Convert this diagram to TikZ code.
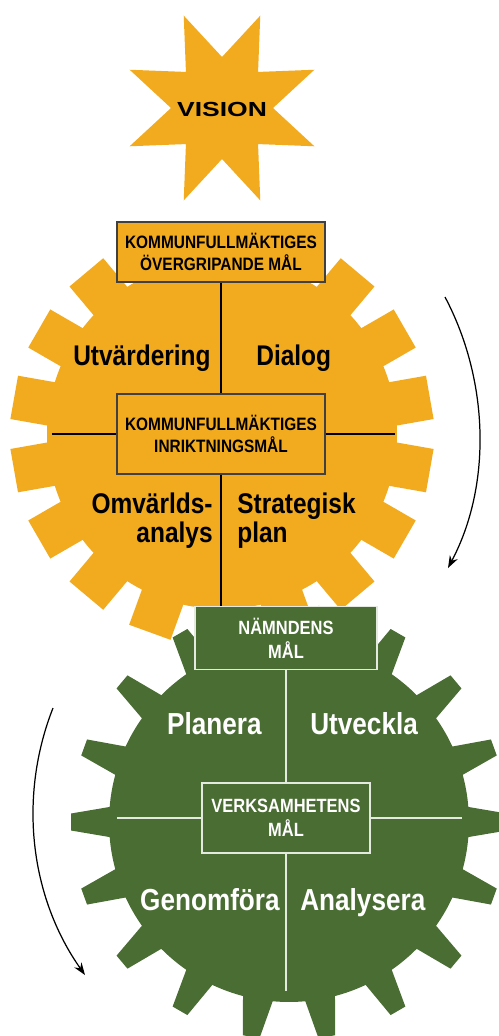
\documentclass[tikz,border=0pt]{standalone}
\usepackage{fontspec}
\setmainfont{Liberation Sans}
\newfontfamily\condfont[FakeStretch=0.86]{Liberation Sans}
\newfontfamily\widefont[FakeStretch=1.3]{Liberation Sans}
\usetikzlibrary{arrows.meta}
\definecolor{gearorange}{HTML}{F2AA1F}
\definecolor{geargreen}{HTML}{4A6D33}
\definecolor{paleline}{HTML}{E4EADF}

\begin{document}
\begin{tikzpicture}[x=0.02cm, y=-0.02cm, >={Stealth[length=7pt,width=5pt]},
    obox/.style={draw=black!75, line width=0.7pt, fill=gearorange, minimum width=4.16cm,
      align=center, inner sep=0pt, font=\condfont\bfseries\fontsize{10.2}{13}\selectfont},
    gbox/.style={draw=paleline, line width=0.7pt, fill=geargreen, text=white,
      align=center, inner sep=0pt, font=\condfont\bfseries\fontsize{10.9}{13.6}\selectfont},
    olabel/.style={inner sep=0pt, font=\condfont\bfseries\fontsize{16.2}{16.4}\selectfont},
    glabel/.style={inner sep=0pt, text=white, font=\condfont\bfseries\fontsize{17.3}{17}\selectfont}]
  \clip (0,0) rectangle (499,1036);

  % vision star
  \fill[gearorange, shift={(222,108)}] (0:51)
    \foreach \k in {0,...,7} { -- ({22.5+45*\k}:100) -- ({45+45*\k}:51) } -- cycle;
  \node[inner sep=0pt, font=\widefont\bfseries\fontsize{11.6}{14}\selectfont] (vision) at (222,109) {VISION};

  % orange gear
  \fill[gearorange] (222,434) circle[radius=3.5cm];
  \foreach \a in {10,30,...,350}
    \fill[gearorange, shift={(222,434)}, rotate=\a] (150,-22) -- (211,-22) -- (211,22) -- (150,22) -- cycle;

  \node[obox, minimum height=1.2cm] (overgrip) at (221,252) {KOMMUNFULLMÄKTIGES\\ÖVERGRIPANDE MÅL};
  \node[obox, minimum height=1.6cm] (inrikt) at (221,434) {KOMMUNFULLMÄKTIGES\\INRIKTNINGSMÅL};
  \coordinate (oleft) at (52,434);
  \coordinate (oright) at (395,434);
  \coordinate (odown) at (221,615);
  \draw[line width=1.1pt] (overgrip) -- (inrikt);
  \draw[line width=1.1pt] (inrikt) -- (odown);
  \draw[line width=1.1pt] (oleft) -- (inrikt);
  \draw[line width=1.1pt] (inrikt) -- (oright);

  \node[olabel, anchor=base east] (utv) at (211,365) {Utvärdering};
  \node[olabel, anchor=base west] (dialog) at (256,365) {Dialog};
  \node[olabel, anchor=base east, align=right] (omv) at (213,542) {Omvärlds-\\analys};
  \node[olabel, anchor=base west, align=left] (strat) at (237,542) {Strategisk\\plan};

  % green gear
  \fill[geargreen] (289,822) circle[radius=3.6cm];
  \foreach \a in {0,20,...,340}
    \fill[geargreen, shift={(289,822)}, rotate=\a] (165,-17.5) -- (218,-8.5) -- (218,8.5) -- (165,17.5) -- cycle;

  \node[gbox, minimum width=3.64cm, minimum height=1.26cm] (namnd) at (286,638) {NÄMNDENS\\MÅL};
  \node[gbox, minimum width=3.36cm, minimum height=1.4cm] (verks) at (286,818) {VERKSAMHETENS\\MÅL};
  \coordinate (gleft) at (117,818);
  \coordinate (gright) at (462,818);
  \coordinate (gdown) at (286,991);
  \draw[paleline, line width=1pt] (namnd) -- (verks);
  \draw[paleline, line width=1pt] (verks) -- (gdown);
  \draw[paleline, line width=1pt] (gleft) -- (verks);
  \draw[paleline, line width=1pt] (verks) -- (gright);

  \node[glabel, anchor=base east] (planera) at (262,734) {Planera};
  \node[glabel, anchor=base west] (utveckla) at (310,734) {Utveckla};
  \node[glabel, anchor=base east] (genomf) at (280,910) {Genomföra};
  \node[glabel, anchor=base west] (analys) at (300,910) {Analysera};

  % rotation arrows
  \coordinate (cwstart) at (445,297);
  \coordinate (cwend) at (448,568);
  \draw[->, line width=0.7pt] (cwstart) .. controls (489,380) and (492,485) .. (cwend);
  \coordinate (ccstart) at (53,708);
  \coordinate (ccend) at (85,975);
  \draw[->, line width=0.7pt] (ccstart) .. controls (18,797) and (30,897) .. (ccend);
\end{tikzpicture}
\end{document}
